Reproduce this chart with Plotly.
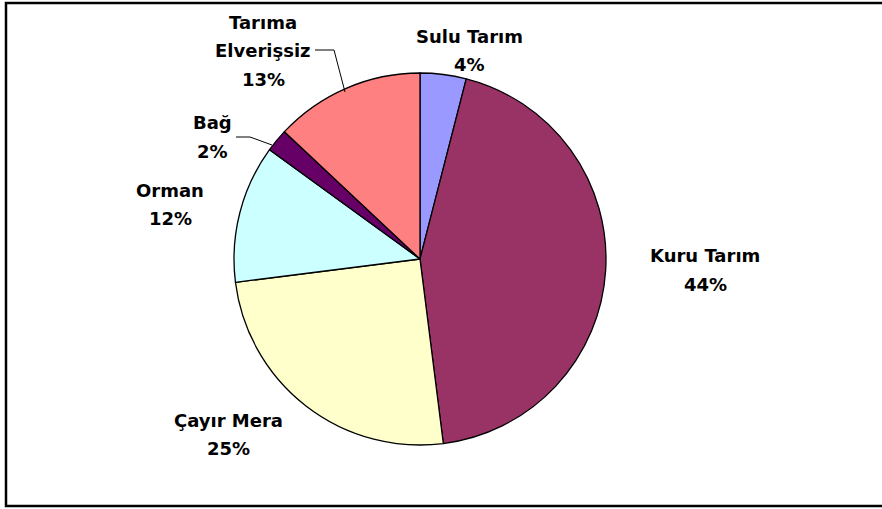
import plotly.graph_objects as go

# Data
categories = ["Sulu Tarım", "Kuru Tarım", "Çayır Mera", "Orman", "Bağ", "Tarıma Elverişsiz"]
values = [4, 44, 25, 12, 2, 13]
colors = ["#9999FF", "#993366", "#FFFFCC", "#CCFFFF", "#660066", "#FF8080"]
label_lines = [["Sulu Tarım", "4%"], ["Kuru Tarım", "44%"], ["Çayır Mera", "25%"],
               ["Orman", "12%"], ["Bağ", "2%"], ["Tarıma", "Elverişsiz", "13%"]]

W, H = 882, 509
cx, cy, r = 420, 259, 186  # pixel center / radius (from top-left)

fig = go.Figure(go.Pie(
    labels=categories, values=values, sort=False, direction="clockwise", rotation=0,
    marker=dict(colors=colors, line=dict(color="black", width=1.3)),
    textinfo="none", hoverinfo="label+percent", showlegend=False,
    domain=dict(x=[(cx - r) / W, (cx + r) / W], y=[(H - cy - r) / H, (H - cy + r) / H]),
))

# label positions (pixel center x, first-line y) – layout only
label_pos = [(470, 36), (705, 256), (228, 420), (170, 190), (212, 123), (263, 22)]
line_gap = 28.5
annotations = []
for lines, (lx, ly) in zip(label_lines, label_pos):
    for i, t in enumerate(lines):
        annotations.append(dict(
            x=lx / W, y=1 - (ly + i * line_gap) / H, xref="paper", yref="paper",
            text=t, showarrow=False, xanchor="center", yanchor="middle",
            font=dict(family="DejaVu Sans", size=18, color="black", weight="bold"),
        ))

def px(x, y):
    return x / W, 1 - y / H

shapes = [
    dict(type="rect", xref="paper", yref="paper", x0=6 / W, x1=1.02, y0=3 / H, y1=1 - 3 / H,
         line=dict(color="black", width=2.5)),
]
# leader lines
for pts in ([(315, 50), (334, 50), (345, 92)], [(236, 137), (250, 137), (272, 145)]):
    path = "M " + " L ".join(f"{px(x, y)[0]},{px(x, y)[1]}" for x, y in pts)
    shapes.append(dict(type="path", xref="paper", yref="paper", path=path,
                       line=dict(color="black", width=1)))

fig.update_layout(
    width=W, height=H, margin=dict(l=0, r=0, t=0, b=0),
    paper_bgcolor="white", plot_bgcolor="white",
    annotations=annotations, shapes=shapes,
)
fig.write_html("out.html", config={"displayModeBar": False},
               post_script="document.body.style.margin='0';document.body.style.overflow='hidden';")
